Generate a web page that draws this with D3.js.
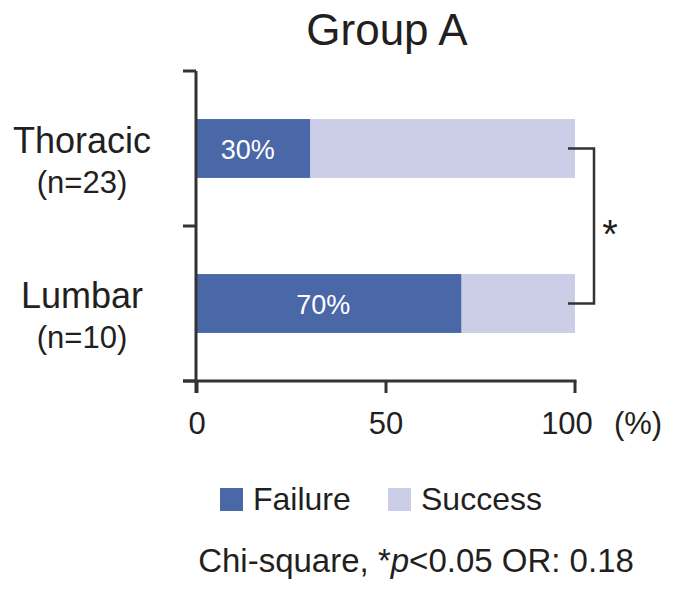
<!DOCTYPE html>
<html>
<head>
<meta charset="utf-8">
<script src="https://cdn.jsdelivr.net/npm/d3@7"></script>
<style>
  html, body { margin: 0; padding: 0; background: #fff; }
  svg { display: block; font-family: "Liberation Sans", Arial, Helvetica, sans-serif; }
</style>
</head>
<body>
<svg id="chart" width="674" height="596"></svg>
<script>
// ---- data ----
const categories = ["Thoracic", "Lumbar"];
const sampleSizes = ["(n=23)", "(n=10)"];
const failure = [30, 70];
const success = [70, 30];
const seriesNames = ["Failure", "Success"];
const xTicks = [0, 50, 100];
const titleText = "Group A";
const footnote = ["Chi-square, *", "p", "<0.05 OR: 0.18"];

// ---- layout ----
const svg = d3.select("#chart");
const ink = "#231f20";
const axisCol = "#333333";
const colors = { Failure: "#4a67a8", Success: "#cbcee6" };

const x = d3.scaleLinear().domain([0, 100]).range([197, 575]);
const y = d3.scaleBand().domain(categories).range([71, 381]).paddingInner(0.62).paddingOuter(0.31);

// title
svg.append("text").attr("x", 387).attr("y", 45).attr("text-anchor", "middle")
  .attr("font-size", 44).attr("fill", ink).text(titleText);

// stacked data
const rows = categories.map((c, i) => ({ cat: c, Failure: failure[i], Success: success[i] }));
const stack = d3.stack().keys(seriesNames)(rows);

svg.append("g").selectAll("g").data(stack).join("g")
  .attr("fill", d => colors[d.key])
  .selectAll("rect").data(d => d).join("rect")
  .attr("x", d => x(d[0]))
  .attr("width", d => x(d[1]) - x(d[0]))
  .attr("y", d => y(d.data.cat))
  .attr("height", y.bandwidth());

// failure labels
svg.append("g").selectAll("text").data(rows).join("text")
  .attr("x", d => (x(0) + x(d.Failure)) / 2 - 6)
  .attr("y", d => y(d.cat) + y.bandwidth() / 2 + 10)
  .attr("text-anchor", "middle").attr("font-size", 27).attr("fill", "#ffffff")
  .text(d => d.Failure + "%");

// y axis: line with ticks at band boundaries
const yAxisX = 196;
const boundaries = [y.range()[0], ...categories.slice(1).map(c => y(c) - y.step() * y.paddingInner() / 2), y.range()[1]];
svg.append("line").attr("x1", yAxisX).attr("x2", yAxisX)
  .attr("y1", boundaries[0]).attr("y2", 393)
  .attr("stroke", axisCol).attr("stroke-width", 3);
svg.append("g").selectAll("line").data(boundaries).join("line")
  .attr("x1", 183).attr("x2", yAxisX)
  .attr("y1", d => d).attr("y2", d => d)
  .attr("stroke", axisCol).attr("stroke-width", 3);

// x axis
const xAxisY = 381;
svg.append("line").attr("x1", 183).attr("x2", x(100) + 1.5)
  .attr("y1", xAxisY).attr("y2", xAxisY)
  .attr("stroke", axisCol).attr("stroke-width", 3);
svg.append("g").selectAll("line").data(xTicks).join("line")
  .attr("x1", d => x(d)).attr("x2", d => x(d))
  .attr("y1", xAxisY).attr("y2", 393)
  .attr("stroke", axisCol).attr("stroke-width", 3);
svg.append("g").selectAll("text").data(xTicks).join("text")
  .attr("x", d => d === 100 ? x(d) - 8 : x(d))
  .attr("y", 434).attr("text-anchor", "middle")
  .attr("font-size", 31).attr("fill", ink).text(d => d);
svg.append("text").attr("x", 638).attr("y", 434).attr("text-anchor", "middle")
  .attr("font-size", 31).attr("fill", ink).text("(%)");

// category labels
svg.append("g").selectAll("text").data(categories).join("text")
  .attr("x", 82).attr("y", c => y(c) + y.bandwidth() / 2 + 4)
  .attr("text-anchor", "middle").attr("font-size", 36).attr("fill", ink).text(c => c);
svg.append("g").selectAll("text").data(categories).join("text")
  .attr("x", 82).attr("y", (c, i) => y(c) + y.bandwidth() / 2 + 44)
  .attr("text-anchor", "middle").attr("font-size", 31).attr("fill", ink).text((c, i) => sampleSizes[i]);

// significance bracket
const yTop = y(categories[0]) + y.bandwidth() / 2;
const yBot = y(categories[1]) + y.bandwidth() / 2;
svg.append("path")
  .attr("d", `M568,${yTop}H594V${yBot}H568`)
  .attr("fill", "none").attr("stroke", axisCol).attr("stroke-width", 2.5);
svg.append("text").attr("x", 610).attr("y", (yTop + yBot) / 2 + 22)
  .attr("text-anchor", "middle").attr("font-size", 40).attr("fill", ink).text("*");

// legend
const legX = [220, 388];
const lg = svg.append("g").selectAll("g").data(seriesNames).join("g")
  .attr("transform", (d, i) => `translate(${legX[i]},488)`);
lg.append("rect").attr("width", 23).attr("height", 23).attr("fill", d => colors[d]);
lg.append("text").attr("x", 33).attr("y", 22).attr("font-size", 32).attr("fill", ink).text(d => d);

// footnote
const fn = svg.append("text").attr("x", 416).attr("y", 572).attr("text-anchor", "middle")
  .attr("font-size", 33).attr("fill", ink);
fn.append("tspan").text(footnote[0]);
fn.append("tspan").attr("font-style", "italic").text(footnote[1]);
fn.append("tspan").text(footnote[2]);
</script>
</body>
</html>
